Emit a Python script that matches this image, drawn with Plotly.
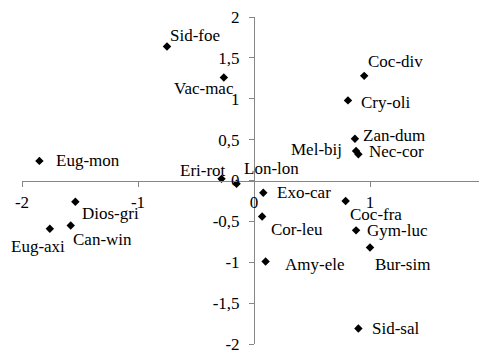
import plotly.graph_objects as go

# species codes and their ordination scores
species = [
    "Sid-foe", "Vac-mac", "Eug-mon", "Eri-rot", "Lon-lon", "Dios-gri",
    "Can-win", "Eug-axi", "Coc-div", "Cry-oli", "Zan-dum", "Mel-bij",
    "Nec-cor", "Exo-car", "Coc-fra", "Cor-leu", "Gym-luc", "Bur-sim",
    "Amy-ele", "Sid-sal",
]
axis1 = [
    -0.75, -0.26, -1.85, -0.28, -0.15, -1.54,
    -1.58, -1.76, 0.95, 0.81, 0.87, 0.88,
    0.90, 0.08, 0.79, 0.07, 0.88, 1.00,
    0.10, 0.90,
]
axis2 = [
    1.64, 1.26, 0.24, 0.02, -0.04, -0.26,
    -0.55, -0.59, 1.28, 0.98, 0.51, 0.36,
    0.32, -0.15, -0.25, -0.44, -0.61, -0.82,
    -0.99, -1.81,
]

x_ticks = [-2, -1, 0, 1, 2]
x_tick_labels = ["-2", "-1", "0", "1", "2"]
y_ticks = [-2, -1.5, -1, -0.5, 0, 0.5, 1, 1.5, 2]
y_tick_labels = ["-2", "-1,5", "-1", "-0,5", "0", "0,5", "1", "1,5", "2"]

# label placement: anchor side, x shift, y shift (pixels)
label_pos = {
    "Sid-foe": ("left", 1, 11),
    "Vac-mac": ("right", 12, -11),
    "Eug-mon": ("left", 15, 0),
    "Eri-rot": ("right", 6, 8),
    "Lon-lon": ("left", 5, 15),
    "Dios-gri": ("left", 5, -12),
    "Can-win": ("left", 0, -14),
    "Eug-axi": ("left", -41, -18),
    "Coc-div": ("left", 2, 14),
    "Cry-oli": ("left", 11, -2),
    "Zan-dum": ("left", 6, 3),
    "Mel-bij": ("right", -12, 2),
    "Nec-cor": ("left", 9, 3),
    "Exo-car": ("left", 12, 0),
    "Coc-fra": ("left", 2, -14),
    "Cor-leu": ("left", 7, -13),
    "Gym-luc": ("left", 9, 0),
    "Bur-sim": ("left", 3, -17),
    "Amy-ele": ("left", 17, -3),
    "Sid-sal": ("left", 12, 0),
}

font = dict(
    family="Times New Roman, Liberation Serif, DejaVu Serif, serif",
    size=17,
    color="black",
)
axis_color = "#868686"

fig = go.Figure()
fig.add_trace(
    go.Scatter(
        x=axis1,
        y=axis2,
        mode="markers",
        marker=dict(symbol="diamond", size=6.5, color="black"),
        hoverinfo="text",
        text=species,
    )
)

for name, xv, yv in zip(species, axis1, axis2):
    side, dx, dy = label_pos[name]
    fig.add_annotation(
        x=xv,
        y=yv,
        text=name,
        showarrow=False,
        xanchor=side,
        yanchor="middle",
        xshift=dx,
        yshift=dy,
        font=font,
    )

axis_common = dict(
    showgrid=False,
    zeroline=False,
    showline=True,
    linecolor=axis_color,
    linewidth=1,
    ticks="outside",
    ticklen=5,
    tickcolor=axis_color,
    tickfont=font,
    ticklabeloverflow="allow",
    anchor="free",
    position=0.5,
    automargin=False,
)

fig.update_xaxes(
    range=[-2, 2],
    tickvals=x_ticks,
    ticktext=x_tick_labels,
    ticklabelstandoff=1,
    domain=[0, 1],
    **axis_common,
)
fig.update_yaxes(
    range=[-2, 2],
    tickvals=y_ticks,
    ticktext=y_tick_labels,
    ticklabelstandoff=6,
    domain=[0, 1],
    **axis_common,
)

# the page body adds an 8px offset, so the figure is sized to fit inside it
fig.update_layout(
    width=479,
    height=342,
    margin=dict(l=14, r=1, t=9, b=6),
    font=font,
    paper_bgcolor="white",
    plot_bgcolor="white",
    showlegend=False,
)

fig.write_html("out.html")
